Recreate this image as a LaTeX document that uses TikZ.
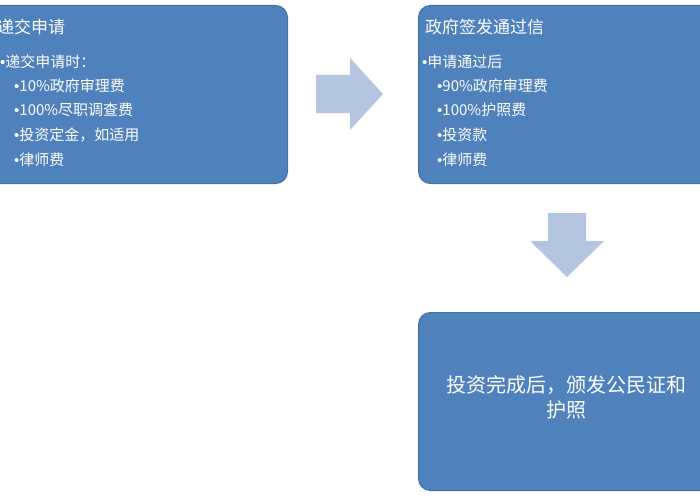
\documentclass[tikz,border=0pt]{standalone}
\usepackage{fontspec}
\setmainfont{Noto Sans CJK SC}
\newfontfamily\bulfont{Liberation Sans}
\newcommand{\bul}{{\bulfont •}}
\usetikzlibrary{shapes.arrows}
\definecolor{boxfill}{HTML}{4F81BD}
\definecolor{boxline}{HTML}{41719C}
\definecolor{arrfill}{HTML}{B4C5E0}
\begin{document}
\begin{tikzpicture}[x=1pt,y=-1pt,
  card/.style={fill=boxfill,draw=boxline,line width=1pt,rounded corners=12pt},
  ttl/.style={text=white,anchor=west,inner sep=0pt,font=\fontsize{17}{20}\selectfont},
  itm/.style={text=white,anchor=west,inner sep=0pt,font=\fontsize{15}{17}\selectfont},
  bigarrow/.style={fill=arrfill,draw=none}]
\useasboundingbox (0,0) rectangle (700,500);
\fill[white] (0,0) rectangle (700,500);
\clip (0,0) rectangle (700,500);
\node[card,minimum width=300pt,minimum height=178pt,anchor=north west] (b1) at (-13,5) {};
\node[card,minimum width=296pt,minimum height=178pt,anchor=north west] (b2) at (418,5) {};
\node[card,minimum width=296pt,minimum height=178pt,anchor=north west] (b3) at (418,312) {};
\fill[bigarrow] (316,75) -- (350,75) -- (350,58) -- (383,94) -- (350,130) -- (350,113) -- (316,113) -- cycle;
\fill[bigarrow] (548,213) -- (586,213) -- (586,241) -- (604,241) -- (567,277) -- (530,241) -- (548,241) -- cycle;
\node[ttl] (t1) at (-3,27) {递交申请};
\node[itm] (a1) at (0,62) {\bul 递交申请时：};
\node[itm] (a2) at (14,86) {\bul 10\%政府审理费};
\node[itm] (a3) at (14,110) {\bul 100\%尽职调查费};
\node[itm] (a4) at (14,135) {\bul 投资定金，如适用};
\node[itm] (a5) at (14,160) {\bul 律师费};
\node[ttl] (t2) at (425,27) {政府签发通过信};
\node[itm] (c1) at (422,62) {\bul 申请通过后};
\node[itm] (c2) at (437,86) {\bul 90\%政府审理费};
\node[itm] (c3) at (437,110) {\bul 100\%护照费};
\node[itm] (c4) at (437,135) {\bul 投资款};
\node[itm] (c5) at (437,160) {\bul 律师费};
\node[text=white,font=\fontsize{20}{25}\selectfont,align=center,text width=290pt] (t3) at (566,397) {投资完成后，颁发公民证和\\护照};
\end{tikzpicture}
\end{document}
